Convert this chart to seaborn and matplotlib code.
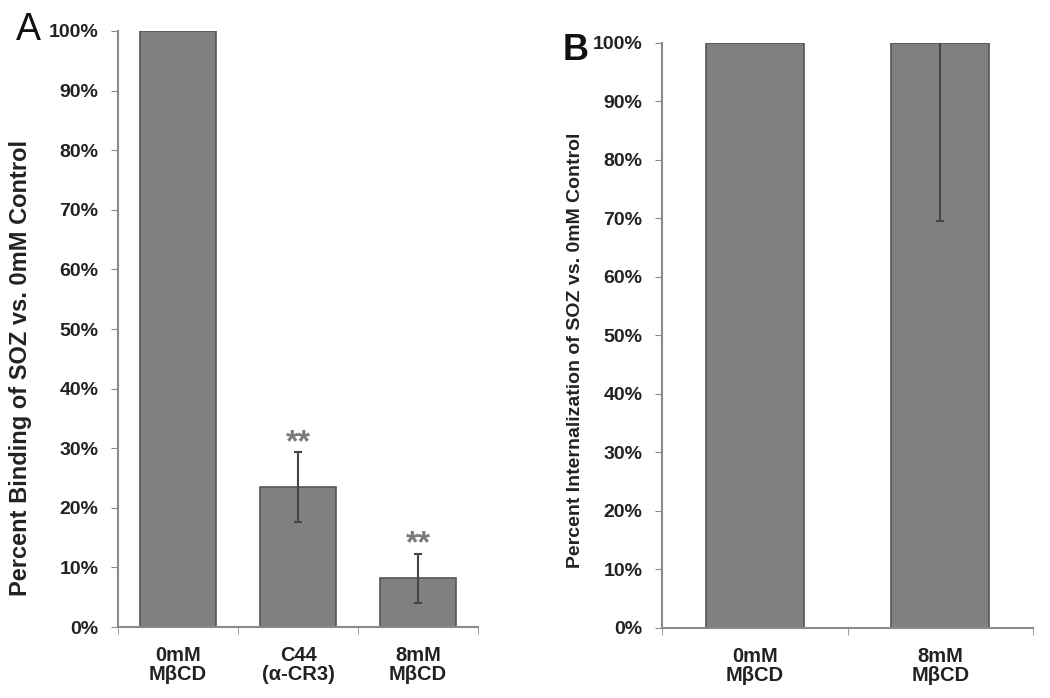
import matplotlib
matplotlib.use("Agg")
import matplotlib.pyplot as plt
import seaborn as sns
from matplotlib.ticker import PercentFormatter, FixedLocator

sns.set_style("ticks")
plt.rcParams['font.family'] = ['Liberation Sans', 'DejaVu Sans']

# Panel A data
cats_a = ["0mM\nMβCD", "C44\n(α-CR3)", "8mM\nMβCD"]
vals_a = [100, 23.5, 8.2]
errs_a = [0, 5.8, 4.1]
stars_a = ["", "**", "**"]

# Panel B data
cats_b = ["0mM\nMβCD", "8mM\nMβCD"]
vals_b = [100, 100]
errs_b = [0, 30.5]

bar_color = "#808080"
edge_color = "#555555"
axis_color = "#8a8a8a"

fig = plt.figure(figsize=(10.5, 6.98), dpi=100)
ax_a = fig.add_axes([0.1124, 0.1017, 0.3429, 0.8539])
ax_b = fig.add_axes([0.6305, 0.1003, 0.3533, 0.8381])


def draw_panel(ax, cats, vals, errs, width, ylabel, label_size, label_xy):
    sns.barplot(x=cats, y=vals, ax=ax, color=bar_color, saturation=1,
                width=width, edgecolor=edge_color, linewidth=1.2, errorbar=None)
    pos = [i for i, e in enumerate(errs) if e > 0]
    ax.errorbar(pos, [vals[i] for i in pos], yerr=[errs[i] for i in pos], fmt="none",
                ecolor="#454545", elinewidth=1.5, capsize=3, capthick=1.5, zorder=5)
    ax.set_ylim(0, 100)
    ax.set_xlim(-0.5, len(cats) - 0.5)
    ax.set_yticks(range(0, 101, 10))
    ax.yaxis.set_major_formatter(PercentFormatter(decimals=0))
    ax.xaxis.set_minor_locator(FixedLocator([p + 0.5 for p in range(-1, len(cats))]))
    ax.tick_params(axis="x", which="major", length=0, pad=14, labelsize=14.5)
    ax.tick_params(axis="x", which="minor", length=5, color=axis_color, direction="out")
    ax.tick_params(axis="y", length=5, color=axis_color, pad=9, labelsize=14)
    for t in ax.get_xticklabels() + ax.get_yticklabels():
        t.set_fontweight("bold")
        t.set_color("#222222")
    for t in ax.get_xticklabels():
        t.set_linespacing(1.0)
    sns.despine(ax=ax)
    for s in ("left", "bottom"):
        ax.spines[s].set_color(axis_color)
        ax.spines[s].set_linewidth(1.5)
    ax.set_ylabel(ylabel, fontsize=label_size, fontweight="bold", color="#222222")
    ax.yaxis.set_label_coords(*label_xy)
    ax.set_xlabel("")


draw_panel(ax_a, cats_a, vals_a, errs_a, 0.63,
           "Percent Binding of SOZ vs. 0mM Control", 17, (-0.24, 0.435))
draw_panel(ax_b, cats_b, vals_b, errs_b, 0.53,
           "Percent Internalization of SOZ vs. 0mM Control", 14, (-0.21, 0.475))

for i, s in enumerate(stars_a):
    if s:
        ax_a.text(i, vals_a[i] + errs_a[i] - 1.0, s, ha="center", va="bottom",
                  fontsize=23, fontweight="bold", color="#7a7a7a")

fig.text(28 / 1050, 1 - 40 / 698, "A", fontsize=27, ha="center", va="baseline", color="#111111")
fig.text(576 / 1050, 1 - 60 / 698, "B", fontsize=26, fontweight="bold", ha="center",
         va="baseline", color="#111111")

fig.savefig("out.png", dpi=100, facecolor="white")
